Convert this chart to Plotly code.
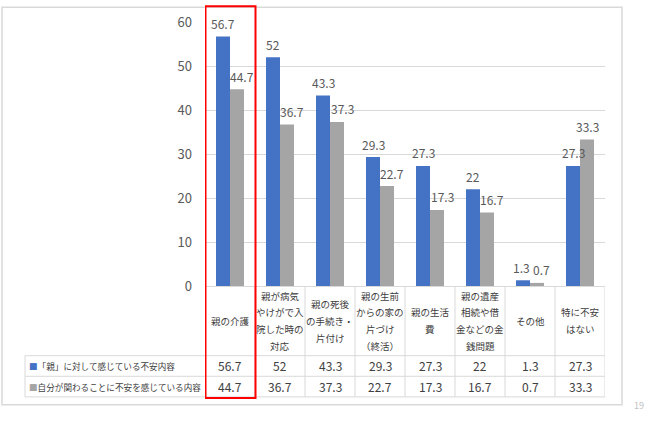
import plotly.graph_objects as go

categories = ["親の介護", "親が病気やけがで入院した時の対応", "親の死後の手続き・片付け",
              "親の生前からの家の片づけ（終活）", "親の生活費", "親の遺産相続や借金などの金銭問題",
              "その他", "特に不安はない"]
category_lines = [["親の介護"], ["親が病気", "やけがで入", "院した時の", "対応"],
                  ["親の死後", "の手続き・", "片付け"], ["親の生前", "からの家の", "片づけ", "（終活）"],
                  ["親の生活", "費"], ["親の遺産", "相続や借", "金などの金", "銭問題"],
                  ["その他"], ["特に不安", "はない"]]
series_names = ["「親」に対して感じている不安内容", "自分が関わることに不安を感じている内容"]
parent_values = [56.7, 52, 43.3, 29.3, 27.3, 22, 1.3, 27.3]
self_values = [44.7, 36.7, 37.3, 22.7, 17.3, 16.7, 0.7, 33.3]
y_ticks = [0, 10, 20, 30, 40, 50, 60]

BLUE = "#4472C4"
GRAY = "#A5A5A5"
TXT = "#595959"
LINE = "#D9D9D9"
FONT = "Noto Sans CJK JP"

W, H = 650, 421
L, R, T, B = 205, 605, 17, 286


def fx(px):
    return (px - L) / (R - L)


def fy(py):
    return (B - py) / (B - T)


fig = go.Figure()
fig.add_trace(go.Bar(x=categories, y=parent_values, name=series_names[0],
                     marker=dict(color=BLUE, line=dict(width=0))))
fig.add_trace(go.Bar(x=categories, y=self_values, name=series_names[1],
                     marker=dict(color=GRAY, line=dict(width=0))))

annotations = []
shapes = []

# bar value labels (gray labels nudged right when the neighbouring blue bar is taller)
for k, (vals, dx) in enumerate(((parent_values, -7), (self_values, 7))):
    for i, (c, v) in enumerate(zip(categories, vals)):
        close = parent_values[i] < 3 and self_values[i] < 3
        if close:
            shift = dx + (-2 if k == 0 else 4)
        elif k == 1 and parent_values[i] > self_values[i]:
            shift = dx + 5
        else:
            shift = dx
        annotations.append(dict(x=c, y=v, xref="x", yref="y", text=str(v), showarrow=False,
                                xshift=shift, yshift=13, yanchor="middle",
                                font=dict(family=FONT, size=12, color=TXT)))

# category label lines
for c, lines in zip(categories, category_lines):
    n = len(lines)
    for j, t in enumerate(lines):
        py = 321.5 + (j - (n - 1) / 2) * 17
        annotations.append(dict(x=c, y=fy(py), xref="x", yref="paper", text=t, showarrow=False,
                                yanchor="middle", font=dict(family=FONT, size=9.5, color="#404040")))

# table values
for vals, py in ((parent_values, 367.5), (self_values, 388.5)):
    for c, v in zip(categories, vals):
        annotations.append(dict(x=c, y=fy(py), xref="x", yref="paper", text=str(v), showarrow=False,
                                yanchor="middle", font=dict(family=FONT, size=12, color="#404040")))

# row headers
for name, col, py in ((series_names[0], BLUE, 367.5), (series_names[1], GRAY, 388.5)):
    annotations.append(dict(x=fx(27), y=fy(py), xref="paper", yref="paper",
                            text=f'<span style="color:{col}">■</span>{name}', showarrow=False,
                            xanchor="left", yanchor="middle",
                            font=dict(family=FONT, size=8.6, color="#404040")))

# page number
annotations.append(dict(x=fx(639), y=fy(408), xref="paper", yref="paper", text="19", showarrow=False,
                        xanchor="center", yanchor="middle", font=dict(family=FONT, size=9, color="#BFBFBF")))

# slide frame
shapes.append(dict(type="rect", xref="paper", yref="paper", x0=fx(2), x1=fx(622), y0=fy(2), y1=fy(407),
                   line=dict(color="#D9D9D9", width=1.5), layer="below"))

# table horizontal lines
for py, x0 in ((357, 25), (378, 25), (399, 25)):
    shapes.append(dict(type="line", xref="paper", yref="paper", x0=fx(x0), x1=fx(605), y0=fy(py), y1=fy(py),
                       line=dict(color=LINE, width=1)))
shapes.append(dict(type="line", xref="paper", yref="paper", x0=fx(25), x1=fx(25), y0=fy(357), y1=fy(399),
                   line=dict(color=LINE, width=1)))
# table vertical lines at category boundaries
for k in range(len(categories) + 1):
    shapes.append(dict(type="line", xref="x", yref="paper", x0=k - 0.5, x1=k - 0.5, y0=fy(286), y1=fy(399),
                       line=dict(color=LINE, width=1)))

# red highlight box
shapes.append(dict(type="rect", xref="x", yref="paper", x0=-0.49, x1=0.51, y0=fy(1), y1=fy(400),
                   line=dict(color="#FF0000", width=2)))

fig.update_layout(
    width=W, height=H,
    margin=dict(l=L, r=W - R, t=T, b=H - B, pad=0),
    paper_bgcolor="white", plot_bgcolor="white",
    barmode="group", bargap=0.44, bargroupgap=0,
    showlegend=False,
    annotations=annotations, shapes=shapes,
    xaxis=dict(type="category", range=[-0.5, len(categories) - 0.5], showticklabels=False,
               showgrid=False, zeroline=False, showline=False, ticks=""),
    yaxis=dict(range=[0, 60], tickvals=y_ticks, showgrid=True, gridcolor=LINE, gridwidth=1,
               zeroline=True, zerolinecolor=LINE, zerolinewidth=1, showline=False, ticks="",
               ticklabelstandoff=12, tickfont=dict(family=FONT, size=13, color=TXT)),
)

fig.write_html("out.html")
